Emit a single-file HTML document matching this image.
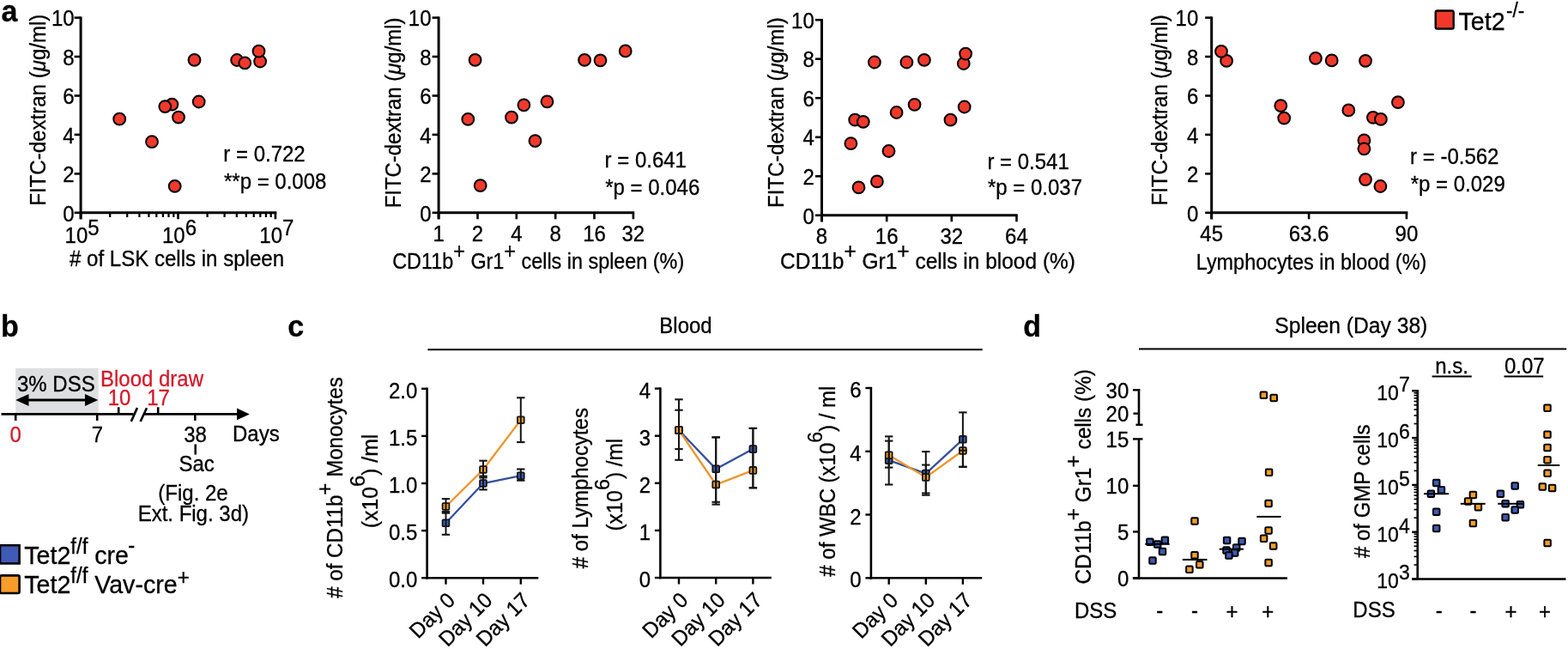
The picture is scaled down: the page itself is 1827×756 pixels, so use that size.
<!DOCTYPE html>
<html><head><meta charset="utf-8"><title>Figure</title>
<style>
html,body{margin:0;padding:0;background:#fff;}
svg{display:block;filter:blur(0.3px);}
</style></head>
<body>
<svg width="1827" height="756" viewBox="0 0 1827 756">
<rect x="0" y="0" width="1827" height="756" fill="#fff"/>
<g font-family="'Liberation Sans', Arial, Helvetica, sans-serif" font-size="24" fill="#000">
<text transform="translate(1.50,24.50) scale(1,1.042)" font-size="34" font-weight="bold" stroke="#000" stroke-width="0.3">a</text>
<line x1="94.1" y1="19.4" x2="94.1" y2="255.3" stroke="#000" stroke-width="3" stroke-linecap="butt"/>
<line x1="86.6" y1="247.8" x2="94.1" y2="247.8" stroke="#000" stroke-width="2.6" stroke-linecap="butt"/>
<text transform="translate(86.60,257.50) scale(1,1.042)" text-anchor="end" stroke="#000" stroke-width="0.3">0</text>
<line x1="86.6" y1="202.4" x2="94.1" y2="202.4" stroke="#000" stroke-width="2.6" stroke-linecap="butt"/>
<text transform="translate(86.60,212.06) scale(1,1.042)" text-anchor="end" stroke="#000" stroke-width="0.3">2</text>
<line x1="86.6" y1="156.9" x2="94.1" y2="156.9" stroke="#000" stroke-width="2.6" stroke-linecap="butt"/>
<text transform="translate(86.60,166.62) scale(1,1.042)" text-anchor="end" stroke="#000" stroke-width="0.3">4</text>
<line x1="86.6" y1="111.5" x2="94.1" y2="111.5" stroke="#000" stroke-width="2.6" stroke-linecap="butt"/>
<text transform="translate(86.60,121.18) scale(1,1.042)" text-anchor="end" stroke="#000" stroke-width="0.3">6</text>
<line x1="86.6" y1="66.0" x2="94.1" y2="66.0" stroke="#000" stroke-width="2.6" stroke-linecap="butt"/>
<text transform="translate(86.60,75.74) scale(1,1.042)" text-anchor="end" stroke="#000" stroke-width="0.3">8</text>
<line x1="86.6" y1="20.6" x2="94.1" y2="20.6" stroke="#000" stroke-width="2.6" stroke-linecap="butt"/>
<text transform="translate(86.60,30.30) scale(1,1.042)" text-anchor="end" stroke="#000" stroke-width="0.3">10</text>
<text transform="translate(52.80,239.80) rotate(-90) scale(1,1.042)" stroke="#000" stroke-width="0.3" textLength="223.2" lengthAdjust="spacingAndGlyphs">FITC-dextran (<tspan font-style="italic">μ</tspan>g/ml)</text>
<line x1="92.6" y1="247.8" x2="322.3" y2="247.8" stroke="#000" stroke-width="3" stroke-linecap="butt"/>
<line x1="94.1" y1="247.8" x2="94.1" y2="255.3" stroke="#000" stroke-width="2.6" stroke-linecap="butt"/>
<line x1="128.2" y1="247.8" x2="128.2" y2="253.0" stroke="#000" stroke-width="2.2" stroke-linecap="butt"/>
<line x1="148.2" y1="247.8" x2="148.2" y2="253.0" stroke="#000" stroke-width="2.2" stroke-linecap="butt"/>
<line x1="162.4" y1="247.8" x2="162.4" y2="253.0" stroke="#000" stroke-width="2.2" stroke-linecap="butt"/>
<line x1="173.4" y1="247.8" x2="173.4" y2="253.0" stroke="#000" stroke-width="2.2" stroke-linecap="butt"/>
<line x1="182.3" y1="247.8" x2="182.3" y2="253.0" stroke="#000" stroke-width="2.2" stroke-linecap="butt"/>
<line x1="189.9" y1="247.8" x2="189.9" y2="253.0" stroke="#000" stroke-width="2.2" stroke-linecap="butt"/>
<line x1="196.5" y1="247.8" x2="196.5" y2="253.0" stroke="#000" stroke-width="2.2" stroke-linecap="butt"/>
<line x1="202.3" y1="247.8" x2="202.3" y2="253.0" stroke="#000" stroke-width="2.2" stroke-linecap="butt"/>
<line x1="207.5" y1="247.8" x2="207.5" y2="255.3" stroke="#000" stroke-width="2.6" stroke-linecap="butt"/>
<line x1="241.6" y1="247.8" x2="241.6" y2="253.0" stroke="#000" stroke-width="2.2" stroke-linecap="butt"/>
<line x1="261.6" y1="247.8" x2="261.6" y2="253.0" stroke="#000" stroke-width="2.2" stroke-linecap="butt"/>
<line x1="275.8" y1="247.8" x2="275.8" y2="253.0" stroke="#000" stroke-width="2.2" stroke-linecap="butt"/>
<line x1="286.8" y1="247.8" x2="286.8" y2="253.0" stroke="#000" stroke-width="2.2" stroke-linecap="butt"/>
<line x1="295.7" y1="247.8" x2="295.7" y2="253.0" stroke="#000" stroke-width="2.2" stroke-linecap="butt"/>
<line x1="303.3" y1="247.8" x2="303.3" y2="253.0" stroke="#000" stroke-width="2.2" stroke-linecap="butt"/>
<line x1="309.9" y1="247.8" x2="309.9" y2="253.0" stroke="#000" stroke-width="2.2" stroke-linecap="butt"/>
<line x1="315.7" y1="247.8" x2="315.7" y2="253.0" stroke="#000" stroke-width="2.2" stroke-linecap="butt"/>
<line x1="320.9" y1="247.8" x2="320.9" y2="255.3" stroke="#000" stroke-width="2.6" stroke-linecap="butt"/>
<text transform="translate(95.60,283.30) scale(1,1.042)" text-anchor="middle" stroke="#000" stroke-width="0.3">10<tspan dy="-9.1">5</tspan></text>
<text transform="translate(209.00,283.30) scale(1,1.042)" text-anchor="middle" stroke="#000" stroke-width="0.3">10<tspan dy="-9.1">6</tspan></text>
<text transform="translate(322.40,283.30) scale(1,1.042)" text-anchor="middle" stroke="#000" stroke-width="0.3">10<tspan dy="-9.1">7</tspan></text>
<text transform="translate(206.00,310.30) scale(1,1.042)" text-anchor="middle" stroke="#000" stroke-width="0.3" textLength="250" lengthAdjust="spacingAndGlyphs"># of LSK cells in spleen</text>
<circle cx="139.2" cy="138.7" r="6.9" fill="#F0392B" stroke="#000" stroke-width="2.0"/>
<circle cx="177.0" cy="165.2" r="6.9" fill="#F0392B" stroke="#000" stroke-width="2.0"/>
<circle cx="200.4" cy="121.6" r="6.9" fill="#F0392B" stroke="#000" stroke-width="2.0"/>
<circle cx="192.3" cy="124.1" r="6.9" fill="#F0392B" stroke="#000" stroke-width="2.0"/>
<circle cx="208.0" cy="136.6" r="6.9" fill="#F0392B" stroke="#000" stroke-width="2.0"/>
<circle cx="203.7" cy="216.9" r="6.9" fill="#F0392B" stroke="#000" stroke-width="2.0"/>
<circle cx="226.5" cy="69.9" r="6.9" fill="#F0392B" stroke="#000" stroke-width="2.0"/>
<circle cx="231.7" cy="118.5" r="6.9" fill="#F0392B" stroke="#000" stroke-width="2.0"/>
<circle cx="276.1" cy="70.0" r="6.9" fill="#F0392B" stroke="#000" stroke-width="2.0"/>
<circle cx="285.3" cy="73.3" r="6.9" fill="#F0392B" stroke="#000" stroke-width="2.0"/>
<circle cx="303.1" cy="71.5" r="6.9" fill="#F0392B" stroke="#000" stroke-width="2.0"/>
<circle cx="301.5" cy="59.7" r="6.9" fill="#F0392B" stroke="#000" stroke-width="2.0"/>
<text transform="translate(260.30,187.60) scale(1,1.042)" stroke="#000" stroke-width="0.3">r = 0.722</text>
<text transform="translate(261.00,219.70) scale(1,1.042)" stroke="#000" stroke-width="0.3">**p = 0.008</text>
<line x1="511.1" y1="19.4" x2="511.1" y2="255.3" stroke="#000" stroke-width="3" stroke-linecap="butt"/>
<line x1="503.6" y1="247.8" x2="511.1" y2="247.8" stroke="#000" stroke-width="2.6" stroke-linecap="butt"/>
<text transform="translate(502.50,257.50) scale(1,1.042)" text-anchor="end" stroke="#000" stroke-width="0.3">0</text>
<line x1="503.6" y1="202.4" x2="511.1" y2="202.4" stroke="#000" stroke-width="2.6" stroke-linecap="butt"/>
<text transform="translate(502.50,212.06) scale(1,1.042)" text-anchor="end" stroke="#000" stroke-width="0.3">2</text>
<line x1="503.6" y1="156.9" x2="511.1" y2="156.9" stroke="#000" stroke-width="2.6" stroke-linecap="butt"/>
<text transform="translate(502.50,166.62) scale(1,1.042)" text-anchor="end" stroke="#000" stroke-width="0.3">4</text>
<line x1="503.6" y1="111.5" x2="511.1" y2="111.5" stroke="#000" stroke-width="2.6" stroke-linecap="butt"/>
<text transform="translate(502.50,121.18) scale(1,1.042)" text-anchor="end" stroke="#000" stroke-width="0.3">6</text>
<line x1="503.6" y1="66.0" x2="511.1" y2="66.0" stroke="#000" stroke-width="2.6" stroke-linecap="butt"/>
<text transform="translate(502.50,75.74) scale(1,1.042)" text-anchor="end" stroke="#000" stroke-width="0.3">8</text>
<line x1="503.6" y1="20.6" x2="511.1" y2="20.6" stroke="#000" stroke-width="2.6" stroke-linecap="butt"/>
<text transform="translate(502.50,30.30) scale(1,1.042)" text-anchor="end" stroke="#000" stroke-width="0.3">10</text>
<text transform="translate(466.60,242.30) rotate(-90) scale(1,1.042)" stroke="#000" stroke-width="0.3" textLength="221.8" lengthAdjust="spacingAndGlyphs">FITC-dextran (<tspan font-style="italic">μ</tspan>g/ml)</text>
<line x1="509.6" y1="247.8" x2="739.2" y2="247.8" stroke="#000" stroke-width="3" stroke-linecap="butt"/>
<line x1="511.1" y1="247.8" x2="511.1" y2="255.3" stroke="#000" stroke-width="2.6" stroke-linecap="butt"/>
<text transform="translate(511.10,280.60) scale(1,1.042)" text-anchor="middle" stroke="#000" stroke-width="0.3">1</text>
<line x1="556.5" y1="247.8" x2="556.5" y2="255.3" stroke="#000" stroke-width="2.6" stroke-linecap="butt"/>
<text transform="translate(556.45,280.60) scale(1,1.042)" text-anchor="middle" stroke="#000" stroke-width="0.3">2</text>
<line x1="601.8" y1="247.8" x2="601.8" y2="255.3" stroke="#000" stroke-width="2.6" stroke-linecap="butt"/>
<text transform="translate(601.80,280.60) scale(1,1.042)" text-anchor="middle" stroke="#000" stroke-width="0.3">4</text>
<line x1="647.2" y1="247.8" x2="647.2" y2="255.3" stroke="#000" stroke-width="2.6" stroke-linecap="butt"/>
<text transform="translate(647.15,280.60) scale(1,1.042)" text-anchor="middle" stroke="#000" stroke-width="0.3">8</text>
<line x1="692.5" y1="247.8" x2="692.5" y2="255.3" stroke="#000" stroke-width="2.6" stroke-linecap="butt"/>
<text transform="translate(692.50,280.60) scale(1,1.042)" text-anchor="middle" stroke="#000" stroke-width="0.3">16</text>
<line x1="737.9" y1="247.8" x2="737.9" y2="255.3" stroke="#000" stroke-width="2.6" stroke-linecap="butt"/>
<text transform="translate(737.85,280.60) scale(1,1.042)" text-anchor="middle" stroke="#000" stroke-width="0.3">32</text>
<text transform="translate(457.20,312.70) scale(1,1.042)" stroke="#000" stroke-width="0.3" textLength="340.0" lengthAdjust="spacingAndGlyphs">CD11b<tspan dy="-11.1">+</tspan><tspan dy="11.1"> Gr1</tspan><tspan dy="-11.1">+</tspan><tspan dy="11.1"> cells in spleen (%)</tspan></text>
<circle cx="553.6" cy="69.9" r="6.9" fill="#F0392B" stroke="#000" stroke-width="2.0"/>
<circle cx="545.3" cy="138.9" r="6.9" fill="#F0392B" stroke="#000" stroke-width="2.0"/>
<circle cx="559.7" cy="216.2" r="6.9" fill="#F0392B" stroke="#000" stroke-width="2.0"/>
<circle cx="596.0" cy="136.7" r="6.9" fill="#F0392B" stroke="#000" stroke-width="2.0"/>
<circle cx="610.4" cy="122.3" r="6.9" fill="#F0392B" stroke="#000" stroke-width="2.0"/>
<circle cx="623.5" cy="164.2" r="6.9" fill="#F0392B" stroke="#000" stroke-width="2.0"/>
<circle cx="637.5" cy="118.3" r="6.9" fill="#F0392B" stroke="#000" stroke-width="2.0"/>
<circle cx="681.1" cy="69.9" r="6.9" fill="#F0392B" stroke="#000" stroke-width="2.0"/>
<circle cx="699.5" cy="70.3" r="6.9" fill="#F0392B" stroke="#000" stroke-width="2.0"/>
<circle cx="728.7" cy="59.4" r="6.9" fill="#F0392B" stroke="#000" stroke-width="2.0"/>
<text transform="translate(704.60,195.00) scale(1,1.042)" stroke="#000" stroke-width="0.3">r = 0.641</text>
<text transform="translate(705.20,226.90) scale(1,1.042)" stroke="#000" stroke-width="0.3">*p = 0.046</text>
<line x1="957.5" y1="22.0" x2="957.5" y2="258.3" stroke="#000" stroke-width="3" stroke-linecap="butt"/>
<line x1="950.0" y1="250.8" x2="957.5" y2="250.8" stroke="#000" stroke-width="2.6" stroke-linecap="butt"/>
<text transform="translate(948.80,260.50) scale(1,1.042)" text-anchor="end" stroke="#000" stroke-width="0.3">0</text>
<line x1="950.0" y1="205.3" x2="957.5" y2="205.3" stroke="#000" stroke-width="2.6" stroke-linecap="butt"/>
<text transform="translate(948.80,214.98) scale(1,1.042)" text-anchor="end" stroke="#000" stroke-width="0.3">2</text>
<line x1="950.0" y1="159.8" x2="957.5" y2="159.8" stroke="#000" stroke-width="2.6" stroke-linecap="butt"/>
<text transform="translate(948.80,169.46) scale(1,1.042)" text-anchor="end" stroke="#000" stroke-width="0.3">4</text>
<line x1="950.0" y1="114.2" x2="957.5" y2="114.2" stroke="#000" stroke-width="2.6" stroke-linecap="butt"/>
<text transform="translate(948.80,123.94) scale(1,1.042)" text-anchor="end" stroke="#000" stroke-width="0.3">6</text>
<line x1="950.0" y1="68.7" x2="957.5" y2="68.7" stroke="#000" stroke-width="2.6" stroke-linecap="butt"/>
<text transform="translate(948.80,78.42) scale(1,1.042)" text-anchor="end" stroke="#000" stroke-width="0.3">8</text>
<line x1="950.0" y1="23.2" x2="957.5" y2="23.2" stroke="#000" stroke-width="2.6" stroke-linecap="butt"/>
<text transform="translate(948.80,32.90) scale(1,1.042)" text-anchor="end" stroke="#000" stroke-width="0.3">10</text>
<text transform="translate(912.80,241.90) rotate(-90) scale(1,1.042)" stroke="#000" stroke-width="0.3" textLength="221.6" lengthAdjust="spacingAndGlyphs">FITC-dextran (<tspan font-style="italic">μ</tspan>g/ml)</text>
<line x1="956.0" y1="250.8" x2="1185.7" y2="250.8" stroke="#000" stroke-width="3" stroke-linecap="butt"/>
<line x1="957.5" y1="250.8" x2="957.5" y2="258.3" stroke="#000" stroke-width="2.6" stroke-linecap="butt"/>
<text transform="translate(957.50,283.60) scale(1,1.042)" text-anchor="middle" stroke="#000" stroke-width="0.3">8</text>
<line x1="1033.2" y1="250.8" x2="1033.2" y2="258.3" stroke="#000" stroke-width="2.6" stroke-linecap="butt"/>
<text transform="translate(1033.15,283.60) scale(1,1.042)" text-anchor="middle" stroke="#000" stroke-width="0.3">16</text>
<line x1="1108.8" y1="250.8" x2="1108.8" y2="258.3" stroke="#000" stroke-width="2.6" stroke-linecap="butt"/>
<text transform="translate(1108.80,283.60) scale(1,1.042)" text-anchor="middle" stroke="#000" stroke-width="0.3">32</text>
<line x1="1184.5" y1="250.8" x2="1184.5" y2="258.3" stroke="#000" stroke-width="2.6" stroke-linecap="butt"/>
<text transform="translate(1184.45,283.60) scale(1,1.042)" text-anchor="middle" stroke="#000" stroke-width="0.3">64</text>
<text transform="translate(909.00,312.70) scale(1,1.042)" stroke="#000" stroke-width="0.3" textLength="344.0" lengthAdjust="spacingAndGlyphs">CD11b<tspan dy="-11.1">+</tspan><tspan dy="11.1">  Gr1</tspan><tspan dy="-11.1">+</tspan><tspan dy="11.1"> cells in blood (%)</tspan></text>
<circle cx="1018.9" cy="72.5" r="6.9" fill="#F0392B" stroke="#000" stroke-width="2.0"/>
<circle cx="1056.4" cy="72.5" r="6.9" fill="#F0392B" stroke="#000" stroke-width="2.0"/>
<circle cx="1076.9" cy="69.9" r="6.9" fill="#F0392B" stroke="#000" stroke-width="2.0"/>
<circle cx="1122.8" cy="74.0" r="6.9" fill="#F0392B" stroke="#000" stroke-width="2.0"/>
<circle cx="1125.1" cy="62.6" r="6.9" fill="#F0392B" stroke="#000" stroke-width="2.0"/>
<circle cx="996.2" cy="139.7" r="6.9" fill="#F0392B" stroke="#000" stroke-width="2.0"/>
<circle cx="1005.8" cy="141.9" r="6.9" fill="#F0392B" stroke="#000" stroke-width="2.0"/>
<circle cx="1044.6" cy="131.0" r="6.9" fill="#F0392B" stroke="#000" stroke-width="2.0"/>
<circle cx="1065.6" cy="121.8" r="6.9" fill="#F0392B" stroke="#000" stroke-width="2.0"/>
<circle cx="1107.5" cy="139.7" r="6.9" fill="#F0392B" stroke="#000" stroke-width="2.0"/>
<circle cx="1123.7" cy="124.5" r="6.9" fill="#F0392B" stroke="#000" stroke-width="2.0"/>
<circle cx="991.4" cy="167.2" r="6.9" fill="#F0392B" stroke="#000" stroke-width="2.0"/>
<circle cx="1035.5" cy="176.0" r="6.9" fill="#F0392B" stroke="#000" stroke-width="2.0"/>
<circle cx="1021.9" cy="211.4" r="6.9" fill="#F0392B" stroke="#000" stroke-width="2.0"/>
<circle cx="1000.5" cy="218.3" r="6.9" fill="#F0392B" stroke="#000" stroke-width="2.0"/>
<text transform="translate(1150.40,196.90) scale(1,1.042)" stroke="#000" stroke-width="0.3">r = 0.541</text>
<text transform="translate(1151.00,227.40) scale(1,1.042)" stroke="#000" stroke-width="0.3">*p = 0.037</text>
<line x1="1411.7" y1="19.4" x2="1411.7" y2="255.3" stroke="#000" stroke-width="3" stroke-linecap="butt"/>
<line x1="1404.2" y1="247.8" x2="1411.7" y2="247.8" stroke="#000" stroke-width="2.6" stroke-linecap="butt"/>
<text transform="translate(1396.30,257.50) scale(1,1.042)" text-anchor="end" stroke="#000" stroke-width="0.3">0</text>
<line x1="1404.2" y1="202.4" x2="1411.7" y2="202.4" stroke="#000" stroke-width="2.6" stroke-linecap="butt"/>
<text transform="translate(1396.30,212.06) scale(1,1.042)" text-anchor="end" stroke="#000" stroke-width="0.3">2</text>
<line x1="1404.2" y1="156.9" x2="1411.7" y2="156.9" stroke="#000" stroke-width="2.6" stroke-linecap="butt"/>
<text transform="translate(1396.30,166.62) scale(1,1.042)" text-anchor="end" stroke="#000" stroke-width="0.3">4</text>
<line x1="1404.2" y1="111.5" x2="1411.7" y2="111.5" stroke="#000" stroke-width="2.6" stroke-linecap="butt"/>
<text transform="translate(1396.30,121.18) scale(1,1.042)" text-anchor="end" stroke="#000" stroke-width="0.3">6</text>
<line x1="1404.2" y1="66.0" x2="1411.7" y2="66.0" stroke="#000" stroke-width="2.6" stroke-linecap="butt"/>
<text transform="translate(1396.30,75.74) scale(1,1.042)" text-anchor="end" stroke="#000" stroke-width="0.3">8</text>
<line x1="1404.2" y1="20.6" x2="1411.7" y2="20.6" stroke="#000" stroke-width="2.6" stroke-linecap="butt"/>
<text transform="translate(1396.30,30.30) scale(1,1.042)" text-anchor="end" stroke="#000" stroke-width="0.3">10</text>
<text transform="translate(1360.00,239.50) rotate(-90) scale(1,1.042)" stroke="#000" stroke-width="0.3" textLength="222.3" lengthAdjust="spacingAndGlyphs">FITC-dextran (<tspan font-style="italic">μ</tspan>g/ml)</text>
<line x1="1410.2" y1="247.8" x2="1640.3" y2="247.8" stroke="#000" stroke-width="3" stroke-linecap="butt"/>
<line x1="1411.7" y1="247.8" x2="1411.7" y2="255.3" stroke="#000" stroke-width="2.6" stroke-linecap="butt"/>
<text transform="translate(1411.70,281.00) scale(1,1.042)" text-anchor="middle" stroke="#000" stroke-width="0.3">45</text>
<line x1="1525.1" y1="247.8" x2="1525.1" y2="255.3" stroke="#000" stroke-width="2.6" stroke-linecap="butt"/>
<text transform="translate(1525.10,281.00) scale(1,1.042)" text-anchor="middle" stroke="#000" stroke-width="0.3">63.6</text>
<line x1="1638.9" y1="247.8" x2="1638.9" y2="255.3" stroke="#000" stroke-width="2.6" stroke-linecap="butt"/>
<text transform="translate(1638.90,281.00) scale(1,1.042)" text-anchor="middle" stroke="#000" stroke-width="0.3">90</text>
<text transform="translate(1528.00,313.50) scale(1,1.042)" text-anchor="middle" stroke="#000" stroke-width="0.3" textLength="268.5" lengthAdjust="spacingAndGlyphs">Lymphocytes in blood (%)</text>
<circle cx="1429.1" cy="70.9" r="6.9" fill="#F0392B" stroke="#000" stroke-width="2.0"/>
<circle cx="1423.0" cy="59.9" r="6.9" fill="#F0392B" stroke="#000" stroke-width="2.0"/>
<circle cx="1532.9" cy="67.8" r="6.9" fill="#F0392B" stroke="#000" stroke-width="2.0"/>
<circle cx="1551.7" cy="70.4" r="6.9" fill="#F0392B" stroke="#000" stroke-width="2.0"/>
<circle cx="1591.0" cy="70.8" r="6.9" fill="#F0392B" stroke="#000" stroke-width="2.0"/>
<circle cx="1492.3" cy="123.2" r="6.9" fill="#F0392B" stroke="#000" stroke-width="2.0"/>
<circle cx="1496.2" cy="137.6" r="6.9" fill="#F0392B" stroke="#000" stroke-width="2.0"/>
<circle cx="1571.3" cy="128.4" r="6.9" fill="#F0392B" stroke="#000" stroke-width="2.0"/>
<circle cx="1599.9" cy="136.8" r="6.9" fill="#F0392B" stroke="#000" stroke-width="2.0"/>
<circle cx="1608.9" cy="138.9" r="6.9" fill="#F0392B" stroke="#000" stroke-width="2.0"/>
<circle cx="1628.9" cy="119.2" r="6.9" fill="#F0392B" stroke="#000" stroke-width="2.0"/>
<circle cx="1589.4" cy="163.4" r="6.9" fill="#F0392B" stroke="#000" stroke-width="2.0"/>
<circle cx="1589.4" cy="173.3" r="6.9" fill="#F0392B" stroke="#000" stroke-width="2.0"/>
<circle cx="1591.0" cy="209.1" r="6.9" fill="#F0392B" stroke="#000" stroke-width="2.0"/>
<circle cx="1608.4" cy="217.0" r="6.9" fill="#F0392B" stroke="#000" stroke-width="2.0"/>
<text transform="translate(1643.10,190.50) scale(1,1.042)" stroke="#000" stroke-width="0.3">r = -0.562</text>
<text transform="translate(1643.70,222.90) scale(1,1.042)" stroke="#000" stroke-width="0.3">*p = 0.029</text>
<rect x="1672.7" y="12.5" width="21" height="21" rx="2" fill="#F0392B" stroke="#000" stroke-width="2.4"/>
<text transform="translate(1699.50,34.90) scale(1,1.042)" font-size="28.6" stroke="#000" stroke-width="0.3">Tet2<tspan font-size="22.5" dx="1.6" dy="-14">-/-</tspan></text>
<text transform="translate(1.00,391.80) scale(1,1.042)" font-size="34" font-weight="bold" stroke="#000" stroke-width="0.3">b</text>
<rect x="18.2" y="429" width="96.5" height="52" fill="#DEDFE1"/>
<text transform="translate(20.00,456.10) scale(1,1.042)" stroke="#000" stroke-width="0.3">3% DSS</text>
<line x1="30.0" y1="465.9" x2="102.0" y2="465.9" stroke="#000" stroke-width="3" stroke-linecap="butt"/>
<path d="M18.2,465.9 L33.5,458.9 L33.5,472.9 Z" stroke="#000" stroke-width="0" fill="#000" />
<path d="M114.3,465.9 L99,458.9 L99,472.9 Z" stroke="#000" stroke-width="0" fill="#000" />
<text transform="translate(117.00,449.70) scale(1,1.042)" fill="#D41A2C" stroke="#D41A2C" stroke-width="0.3">Blood draw</text>
<text transform="translate(139.00,471.50) scale(1,1.042)" text-anchor="middle" fill="#D41A2C" stroke="#D41A2C" stroke-width="0.3">10</text>
<text transform="translate(184.60,471.50) scale(1,1.042)" text-anchor="middle" fill="#D41A2C" stroke="#D41A2C" stroke-width="0.3">17</text>
<line x1="1.5" y1="482.4" x2="155.5" y2="482.4" stroke="#000" stroke-width="2.6" stroke-linecap="butt"/>
<line x1="168.0" y1="482.4" x2="278.0" y2="482.4" stroke="#000" stroke-width="2.6" stroke-linecap="butt"/>
<path d="M290.8,482.4 L276,475.5 L276,489.3 Z" stroke="#000" stroke-width="0" fill="#000" />
<line x1="152.8" y1="491.0" x2="159.9" y2="475.1" stroke="#000" stroke-width="2.6" stroke-linecap="butt"/>
<line x1="163.6" y1="491.0" x2="171.0" y2="475.3" stroke="#000" stroke-width="2.6" stroke-linecap="butt"/>
<line x1="18.2" y1="482.4" x2="18.2" y2="490.0" stroke="#000" stroke-width="2.6" stroke-linecap="butt"/>
<line x1="113.2" y1="482.4" x2="113.2" y2="490.0" stroke="#000" stroke-width="2.6" stroke-linecap="butt"/>
<line x1="227.3" y1="482.4" x2="227.3" y2="490.0" stroke="#000" stroke-width="2.6" stroke-linecap="butt"/>
<line x1="138.2" y1="474.3" x2="138.2" y2="482.4" stroke="#000" stroke-width="2.6" stroke-linecap="butt"/>
<line x1="184.2" y1="474.3" x2="184.2" y2="482.4" stroke="#000" stroke-width="2.6" stroke-linecap="butt"/>
<text transform="translate(18.20,514.60) scale(1,1.042)" text-anchor="middle" fill="#D41A2C" stroke="#D41A2C" stroke-width="0.3">0</text>
<text transform="translate(113.40,514.60) scale(1,1.042)" text-anchor="middle" stroke="#000" stroke-width="0.3">7</text>
<text transform="translate(227.60,514.90) scale(1,1.042)" text-anchor="middle" stroke="#000" stroke-width="0.3">38</text>
<text transform="translate(271.00,514.20) scale(1,1.042)" stroke="#000" stroke-width="0.3">Days</text>
<line x1="227.7" y1="517.5" x2="227.7" y2="529.6" stroke="#000" stroke-width="2.5" stroke-linecap="butt"/>
<text transform="translate(229.20,548.50) scale(1,1.042)" text-anchor="middle" stroke="#000" stroke-width="0.3">Sac</text>
<text transform="translate(225.00,583.20) scale(1,1.042)" text-anchor="middle" stroke="#000" stroke-width="0.3">(Fig. 2e</text>
<text transform="translate(225.30,606.50) scale(1,1.042)" text-anchor="middle" stroke="#000" stroke-width="0.3">Ext. Fig. 3d)</text>
<rect x="0" y="635.2" width="22.6" height="21.2" fill="#3F5BB5" stroke="#000" stroke-width="2.6"/>
<rect x="0" y="670.4" width="22.6" height="20.6" rx="1.5" fill="#F69D2A" stroke="#000" stroke-width="2.6"/>
<text transform="translate(28.30,656.80) scale(1,1.042)" font-size="28.6" stroke="#000" stroke-width="0.3">Tet2<tspan font-size="24" dy="-11.7">f/f</tspan><tspan dy="11.7"> cre</tspan><tspan font-size="24" dx="-0.8" dy="-12">-</tspan></text>
<text transform="translate(28.30,691.20) scale(1,1.042)" font-size="28.6" stroke="#000" stroke-width="0.3">Tet2<tspan font-size="24" dy="-11.7">f/f</tspan><tspan dy="11.7"> Vav-cre</tspan><tspan font-size="24" dy="-10">+</tspan></text>
<text transform="translate(335.30,392.30) scale(1,1.042)" font-size="34" font-weight="bold" stroke="#000" stroke-width="0.3">c</text>
<line x1="498.4" y1="407.2" x2="1144.7" y2="407.2" stroke="#000" stroke-width="2" stroke-linecap="butt"/>
<text transform="translate(799.00,388.20) scale(1,1.042)" text-anchor="middle" stroke="#000" stroke-width="0.3">Blood</text>
<line x1="497.6" y1="451.6" x2="497.6" y2="674.5" stroke="#000" stroke-width="2.6" stroke-linecap="butt"/>
<line x1="496.3" y1="673.2" x2="627.3" y2="673.2" stroke="#000" stroke-width="2.6" stroke-linecap="butt"/>
<line x1="491.1" y1="673.2" x2="497.6" y2="673.2" stroke="#000" stroke-width="2.4" stroke-linecap="butt"/>
<text transform="translate(486.30,684.20) scale(1,1.042)" text-anchor="end" stroke="#000" stroke-width="0.3">0.0</text>
<line x1="491.1" y1="618.1" x2="497.6" y2="618.1" stroke="#000" stroke-width="2.4" stroke-linecap="butt"/>
<text transform="translate(486.30,629.10) scale(1,1.042)" text-anchor="end" stroke="#000" stroke-width="0.3">0.5</text>
<line x1="491.1" y1="563.0" x2="497.6" y2="563.0" stroke="#000" stroke-width="2.4" stroke-linecap="butt"/>
<text transform="translate(486.30,574.00) scale(1,1.042)" text-anchor="end" stroke="#000" stroke-width="0.3">1.0</text>
<line x1="491.1" y1="507.9" x2="497.6" y2="507.9" stroke="#000" stroke-width="2.4" stroke-linecap="butt"/>
<text transform="translate(486.30,518.90) scale(1,1.042)" text-anchor="end" stroke="#000" stroke-width="0.3">1.5</text>
<line x1="491.1" y1="452.8" x2="497.6" y2="452.8" stroke="#000" stroke-width="2.4" stroke-linecap="butt"/>
<text transform="translate(486.30,463.80) scale(1,1.042)" text-anchor="end" stroke="#000" stroke-width="0.3">2.0</text>
<line x1="519.5" y1="673.2" x2="519.5" y2="680.7" stroke="#000" stroke-width="2.4" stroke-linecap="butt"/>
<line x1="563.0" y1="673.2" x2="563.0" y2="680.7" stroke="#000" stroke-width="2.4" stroke-linecap="butt"/>
<line x1="606.8" y1="673.2" x2="606.8" y2="680.7" stroke="#000" stroke-width="2.4" stroke-linecap="butt"/>
<polyline points="519.5,609.3 563.0,563.0 606.8,554.2" fill="none" stroke="#34509F" stroke-width="2.3"/>
<rect x="515.6" y="605.4" width="7.8" height="7.8" rx="0.8" fill="#3F5BB5" stroke="#141414" stroke-width="1.8"/>
<rect x="559.1" y="559.1" width="7.8" height="7.8" rx="0.8" fill="#3F5BB5" stroke="#141414" stroke-width="1.8"/>
<rect x="602.9" y="550.3" width="7.8" height="7.8" rx="0.8" fill="#3F5BB5" stroke="#141414" stroke-width="1.8"/>
<polyline points="519.5,590.0 563.0,547.0 606.8,489.2" fill="none" stroke="#EE9528" stroke-width="2.3"/>
<rect x="515.6" y="586.1" width="7.8" height="7.8" rx="0.8" fill="#F69D2A" stroke="#141414" stroke-width="1.8"/>
<rect x="559.1" y="543.1" width="7.8" height="7.8" rx="0.8" fill="#F69D2A" stroke="#141414" stroke-width="1.8"/>
<rect x="602.9" y="485.3" width="7.8" height="7.8" rx="0.8" fill="#F69D2A" stroke="#141414" stroke-width="1.8"/>
<line x1="519.5" y1="596.1" x2="519.5" y2="622.8" stroke="#141414" stroke-width="2.0" stroke-linecap="butt"/>
<line x1="514.8" y1="596.1" x2="524.2" y2="596.1" stroke="#141414" stroke-width="2.1" stroke-linecap="butt"/>
<line x1="514.8" y1="622.8" x2="524.2" y2="622.8" stroke="#141414" stroke-width="2.1" stroke-linecap="butt"/>
<line x1="563.0" y1="554.6" x2="563.0" y2="570.4" stroke="#141414" stroke-width="2.0" stroke-linecap="butt"/>
<line x1="558.3" y1="554.6" x2="567.7" y2="554.6" stroke="#141414" stroke-width="2.1" stroke-linecap="butt"/>
<line x1="558.3" y1="570.4" x2="567.7" y2="570.4" stroke="#141414" stroke-width="2.1" stroke-linecap="butt"/>
<line x1="606.8" y1="546.5" x2="606.8" y2="559.7" stroke="#141414" stroke-width="2.0" stroke-linecap="butt"/>
<line x1="602.1" y1="546.5" x2="611.5" y2="546.5" stroke="#141414" stroke-width="2.1" stroke-linecap="butt"/>
<line x1="602.1" y1="559.7" x2="611.5" y2="559.7" stroke="#141414" stroke-width="2.1" stroke-linecap="butt"/>
<line x1="519.5" y1="581.1" x2="519.5" y2="597.6" stroke="#141414" stroke-width="2.0" stroke-linecap="butt"/>
<line x1="514.8" y1="581.1" x2="524.2" y2="581.1" stroke="#141414" stroke-width="2.1" stroke-linecap="butt"/>
<line x1="514.8" y1="597.6" x2="524.2" y2="597.6" stroke="#141414" stroke-width="2.1" stroke-linecap="butt"/>
<line x1="563.0" y1="536.7" x2="563.0" y2="556.4" stroke="#141414" stroke-width="2.0" stroke-linecap="butt"/>
<line x1="558.3" y1="536.7" x2="567.7" y2="536.7" stroke="#141414" stroke-width="2.1" stroke-linecap="butt"/>
<line x1="558.3" y1="556.4" x2="567.7" y2="556.4" stroke="#141414" stroke-width="2.1" stroke-linecap="butt"/>
<line x1="606.8" y1="463.3" x2="606.8" y2="515.1" stroke="#141414" stroke-width="2.0" stroke-linecap="butt"/>
<line x1="602.1" y1="463.3" x2="611.5" y2="463.3" stroke="#141414" stroke-width="2.1" stroke-linecap="butt"/>
<line x1="602.1" y1="515.1" x2="611.5" y2="515.1" stroke="#141414" stroke-width="2.1" stroke-linecap="butt"/>
<text transform="translate(531.70,700.70) rotate(-45) scale(1,1.042)" text-anchor="end" stroke="#000" stroke-width="0.3">Day 0</text>
<text transform="translate(575.20,700.70) rotate(-45) scale(1,1.042)" text-anchor="end" stroke="#000" stroke-width="0.3">Day 10</text>
<text transform="translate(619.00,700.70) rotate(-45) scale(1,1.042)" text-anchor="end" stroke="#000" stroke-width="0.3">Day 17</text>
<text transform="translate(399.40,696.80) rotate(-90) scale(1,1.042)" stroke="#000" stroke-width="0.3" textLength="257.5" lengthAdjust="spacingAndGlyphs"># of CD11b<tspan dy="-11.5">+</tspan><tspan dy="11.5"> Monocytes</tspan></text>
<text transform="translate(439.60,615.20) rotate(-90) scale(1,1.042)" stroke="#000" stroke-width="0.3" textLength="109.5" lengthAdjust="spacingAndGlyphs">(x10<tspan font-size="23" dy="-14.2">6</tspan><tspan dy="14.2">) /ml</tspan></text>
<line x1="769.4" y1="451.4" x2="769.4" y2="674.3" stroke="#000" stroke-width="2.6" stroke-linecap="butt"/>
<line x1="768.1" y1="673.0" x2="898.8" y2="673.0" stroke="#000" stroke-width="2.6" stroke-linecap="butt"/>
<line x1="762.9" y1="673.0" x2="769.4" y2="673.0" stroke="#000" stroke-width="2.4" stroke-linecap="butt"/>
<text transform="translate(758.10,684.00) scale(1,1.042)" text-anchor="end" stroke="#000" stroke-width="0.3">0</text>
<line x1="762.9" y1="617.9" x2="769.4" y2="617.9" stroke="#000" stroke-width="2.4" stroke-linecap="butt"/>
<text transform="translate(758.10,628.90) scale(1,1.042)" text-anchor="end" stroke="#000" stroke-width="0.3">1</text>
<line x1="762.9" y1="562.8" x2="769.4" y2="562.8" stroke="#000" stroke-width="2.4" stroke-linecap="butt"/>
<text transform="translate(758.10,573.80) scale(1,1.042)" text-anchor="end" stroke="#000" stroke-width="0.3">2</text>
<line x1="762.9" y1="507.7" x2="769.4" y2="507.7" stroke="#000" stroke-width="2.4" stroke-linecap="butt"/>
<text transform="translate(758.10,518.70) scale(1,1.042)" text-anchor="end" stroke="#000" stroke-width="0.3">3</text>
<line x1="762.9" y1="452.6" x2="769.4" y2="452.6" stroke="#000" stroke-width="2.4" stroke-linecap="butt"/>
<text transform="translate(758.10,463.60) scale(1,1.042)" text-anchor="end" stroke="#000" stroke-width="0.3">4</text>
<line x1="791.0" y1="673.0" x2="791.0" y2="680.5" stroke="#000" stroke-width="2.4" stroke-linecap="butt"/>
<line x1="834.2" y1="673.0" x2="834.2" y2="680.5" stroke="#000" stroke-width="2.4" stroke-linecap="butt"/>
<line x1="877.4" y1="673.0" x2="877.4" y2="680.5" stroke="#000" stroke-width="2.4" stroke-linecap="butt"/>
<polyline points="791.0,501.1 834.2,546.3 877.4,523.1" fill="none" stroke="#34509F" stroke-width="2.3"/>
<rect x="787.1" y="497.2" width="7.8" height="7.8" rx="0.8" fill="#3F5BB5" stroke="#141414" stroke-width="1.8"/>
<rect x="830.3" y="542.4" width="7.8" height="7.8" rx="0.8" fill="#3F5BB5" stroke="#141414" stroke-width="1.8"/>
<rect x="873.5" y="519.2" width="7.8" height="7.8" rx="0.8" fill="#3F5BB5" stroke="#141414" stroke-width="1.8"/>
<polyline points="791.0,501.1 834.2,564.5 877.4,547.9" fill="none" stroke="#EE9528" stroke-width="2.3"/>
<rect x="787.1" y="497.2" width="7.8" height="7.8" rx="0.8" fill="#F69D2A" stroke="#141414" stroke-width="1.8"/>
<rect x="830.3" y="560.6" width="7.8" height="7.8" rx="0.8" fill="#F69D2A" stroke="#141414" stroke-width="1.8"/>
<rect x="873.5" y="544.0" width="7.8" height="7.8" rx="0.8" fill="#F69D2A" stroke="#141414" stroke-width="1.8"/>
<line x1="791.0" y1="477.7" x2="791.0" y2="523.1" stroke="#141414" stroke-width="2.0" stroke-linecap="butt"/>
<line x1="786.3" y1="477.7" x2="795.7" y2="477.7" stroke="#141414" stroke-width="2.1" stroke-linecap="butt"/>
<line x1="786.3" y1="523.1" x2="795.7" y2="523.1" stroke="#141414" stroke-width="2.1" stroke-linecap="butt"/>
<line x1="834.2" y1="509.4" x2="834.2" y2="584.8" stroke="#141414" stroke-width="2.0" stroke-linecap="butt"/>
<line x1="829.5" y1="509.4" x2="838.9" y2="509.4" stroke="#141414" stroke-width="2.1" stroke-linecap="butt"/>
<line x1="829.5" y1="584.8" x2="838.9" y2="584.8" stroke="#141414" stroke-width="2.1" stroke-linecap="butt"/>
<line x1="877.4" y1="498.9" x2="877.4" y2="568.3" stroke="#141414" stroke-width="2.0" stroke-linecap="butt"/>
<line x1="872.7" y1="498.9" x2="882.1" y2="498.9" stroke="#141414" stroke-width="2.1" stroke-linecap="butt"/>
<line x1="872.7" y1="568.3" x2="882.1" y2="568.3" stroke="#141414" stroke-width="2.1" stroke-linecap="butt"/>
<line x1="791.0" y1="465.3" x2="791.0" y2="535.8" stroke="#141414" stroke-width="2.0" stroke-linecap="butt"/>
<line x1="786.3" y1="465.3" x2="795.7" y2="465.3" stroke="#141414" stroke-width="2.1" stroke-linecap="butt"/>
<line x1="786.3" y1="535.8" x2="795.7" y2="535.8" stroke="#141414" stroke-width="2.1" stroke-linecap="butt"/>
<line x1="834.2" y1="509.4" x2="834.2" y2="587.6" stroke="#141414" stroke-width="2.0" stroke-linecap="butt"/>
<line x1="829.5" y1="509.4" x2="838.9" y2="509.4" stroke="#141414" stroke-width="2.1" stroke-linecap="butt"/>
<line x1="829.5" y1="587.6" x2="838.9" y2="587.6" stroke="#141414" stroke-width="2.1" stroke-linecap="butt"/>
<line x1="877.4" y1="498.9" x2="877.4" y2="568.3" stroke="#141414" stroke-width="2.0" stroke-linecap="butt"/>
<line x1="872.7" y1="498.9" x2="882.1" y2="498.9" stroke="#141414" stroke-width="2.1" stroke-linecap="butt"/>
<line x1="872.7" y1="568.3" x2="882.1" y2="568.3" stroke="#141414" stroke-width="2.1" stroke-linecap="butt"/>
<text transform="translate(803.20,700.50) rotate(-45) scale(1,1.042)" text-anchor="end" stroke="#000" stroke-width="0.3">Day 0</text>
<text transform="translate(846.40,700.50) rotate(-45) scale(1,1.042)" text-anchor="end" stroke="#000" stroke-width="0.3">Day 10</text>
<text transform="translate(889.60,700.50) rotate(-45) scale(1,1.042)" text-anchor="end" stroke="#000" stroke-width="0.3">Day 17</text>
<text transform="translate(684.60,662.20) rotate(-90) scale(1,1.042)" stroke="#000" stroke-width="0.3"># of Lymphocytes</text>
<text transform="translate(725.20,618.50) rotate(-90) scale(1,1.042)" stroke="#000" stroke-width="0.3" textLength="107.8" lengthAdjust="spacingAndGlyphs">(x10<tspan font-size="23" dy="-14.2">6</tspan><tspan dy="14.2">) /ml</tspan></text>
<line x1="1014.9" y1="450.8" x2="1014.9" y2="674.6" stroke="#000" stroke-width="2.6" stroke-linecap="butt"/>
<line x1="1013.6" y1="673.3" x2="1144.2" y2="673.3" stroke="#000" stroke-width="2.6" stroke-linecap="butt"/>
<line x1="1008.4" y1="673.3" x2="1014.9" y2="673.3" stroke="#000" stroke-width="2.4" stroke-linecap="butt"/>
<text transform="translate(1003.60,684.30) scale(1,1.042)" text-anchor="end" stroke="#000" stroke-width="0.3">0</text>
<line x1="1008.4" y1="599.5" x2="1014.9" y2="599.5" stroke="#000" stroke-width="2.4" stroke-linecap="butt"/>
<text transform="translate(1003.60,610.53) scale(1,1.042)" text-anchor="end" stroke="#000" stroke-width="0.3">2</text>
<line x1="1008.4" y1="525.8" x2="1014.9" y2="525.8" stroke="#000" stroke-width="2.4" stroke-linecap="butt"/>
<text transform="translate(1003.60,536.77) scale(1,1.042)" text-anchor="end" stroke="#000" stroke-width="0.3">4</text>
<line x1="1008.4" y1="452.0" x2="1014.9" y2="452.0" stroke="#000" stroke-width="2.4" stroke-linecap="butt"/>
<text transform="translate(1003.60,463.00) scale(1,1.042)" text-anchor="end" stroke="#000" stroke-width="0.3">6</text>
<line x1="1035.7" y1="673.3" x2="1035.7" y2="680.8" stroke="#000" stroke-width="2.4" stroke-linecap="butt"/>
<line x1="1078.8" y1="673.3" x2="1078.8" y2="680.8" stroke="#000" stroke-width="2.4" stroke-linecap="butt"/>
<line x1="1121.9" y1="673.3" x2="1121.9" y2="680.8" stroke="#000" stroke-width="2.4" stroke-linecap="butt"/>
<polyline points="1035.7,536.1 1078.8,551.6 1121.9,511.8" fill="none" stroke="#34509F" stroke-width="2.3"/>
<rect x="1031.8" y="532.2" width="7.8" height="7.8" rx="0.8" fill="#3F5BB5" stroke="#141414" stroke-width="1.8"/>
<rect x="1074.9" y="547.7" width="7.8" height="7.8" rx="0.8" fill="#3F5BB5" stroke="#141414" stroke-width="1.8"/>
<rect x="1118.0" y="507.9" width="7.8" height="7.8" rx="0.8" fill="#3F5BB5" stroke="#141414" stroke-width="1.8"/>
<polyline points="1035.7,530.2 1078.8,556.0 1121.9,525.0" fill="none" stroke="#EE9528" stroke-width="2.3"/>
<rect x="1031.8" y="526.3" width="7.8" height="7.8" rx="0.8" fill="#F69D2A" stroke="#141414" stroke-width="1.8"/>
<rect x="1074.9" y="552.1" width="7.8" height="7.8" rx="0.8" fill="#F69D2A" stroke="#141414" stroke-width="1.8"/>
<rect x="1118.0" y="521.1" width="7.8" height="7.8" rx="0.8" fill="#F69D2A" stroke="#141414" stroke-width="1.8"/>
<line x1="1035.7" y1="508.4" x2="1035.7" y2="564.5" stroke="#141414" stroke-width="2.0" stroke-linecap="butt"/>
<line x1="1031.0" y1="508.4" x2="1040.4" y2="508.4" stroke="#141414" stroke-width="2.1" stroke-linecap="butt"/>
<line x1="1031.0" y1="564.5" x2="1040.4" y2="564.5" stroke="#141414" stroke-width="2.1" stroke-linecap="butt"/>
<line x1="1078.8" y1="526.1" x2="1078.8" y2="576.7" stroke="#141414" stroke-width="2.0" stroke-linecap="butt"/>
<line x1="1074.1" y1="526.1" x2="1083.5" y2="526.1" stroke="#141414" stroke-width="2.1" stroke-linecap="butt"/>
<line x1="1074.1" y1="576.7" x2="1083.5" y2="576.7" stroke="#141414" stroke-width="2.1" stroke-linecap="butt"/>
<line x1="1121.9" y1="480.4" x2="1121.9" y2="543.8" stroke="#141414" stroke-width="2.0" stroke-linecap="butt"/>
<line x1="1117.2" y1="480.4" x2="1126.6" y2="480.4" stroke="#141414" stroke-width="2.1" stroke-linecap="butt"/>
<line x1="1117.2" y1="543.8" x2="1126.6" y2="543.8" stroke="#141414" stroke-width="2.1" stroke-linecap="butt"/>
<line x1="1035.7" y1="513.6" x2="1035.7" y2="544.6" stroke="#141414" stroke-width="2.0" stroke-linecap="butt"/>
<line x1="1031.0" y1="513.6" x2="1040.4" y2="513.6" stroke="#141414" stroke-width="2.1" stroke-linecap="butt"/>
<line x1="1031.0" y1="544.6" x2="1040.4" y2="544.6" stroke="#141414" stroke-width="2.1" stroke-linecap="butt"/>
<line x1="1078.8" y1="541.6" x2="1078.8" y2="574.5" stroke="#141414" stroke-width="2.0" stroke-linecap="butt"/>
<line x1="1074.1" y1="541.6" x2="1083.5" y2="541.6" stroke="#141414" stroke-width="2.1" stroke-linecap="butt"/>
<line x1="1074.1" y1="574.5" x2="1083.5" y2="574.5" stroke="#141414" stroke-width="2.1" stroke-linecap="butt"/>
<line x1="1121.9" y1="524.7" x2="1121.9" y2="543.8" stroke="#141414" stroke-width="2.0" stroke-linecap="butt"/>
<line x1="1117.2" y1="524.7" x2="1126.6" y2="524.7" stroke="#141414" stroke-width="2.1" stroke-linecap="butt"/>
<line x1="1117.2" y1="543.8" x2="1126.6" y2="543.8" stroke="#141414" stroke-width="2.1" stroke-linecap="butt"/>
<text transform="translate(1047.90,700.80) rotate(-45) scale(1,1.042)" text-anchor="end" stroke="#000" stroke-width="0.3">Day 0</text>
<text transform="translate(1091.00,700.80) rotate(-45) scale(1,1.042)" text-anchor="end" stroke="#000" stroke-width="0.3">Day 10</text>
<text transform="translate(1134.10,700.80) rotate(-45) scale(1,1.042)" text-anchor="end" stroke="#000" stroke-width="0.3">Day 17</text>
<text transform="translate(972.60,671.70) rotate(-90) scale(1,1.042)" stroke="#000" stroke-width="0.3"># of WBC (x10<tspan font-size="23" dy="-14.2">6</tspan><tspan dy="14.2">) / ml</tspan></text>
<text transform="translate(1192.30,391.60) scale(1,1.042)" font-size="34" font-weight="bold" stroke="#000" stroke-width="0.3">d</text>
<line x1="1327.0" y1="406.6" x2="1825.2" y2="406.6" stroke="#000" stroke-width="2" stroke-linecap="butt"/>
<text transform="translate(1574.30,388.30) scale(1,1.042)" text-anchor="middle" stroke="#000" stroke-width="0.3" textLength="178.0" lengthAdjust="spacingAndGlyphs">Spleen (Day 38)</text>
<line x1="1327.0" y1="453.2" x2="1327.0" y2="494.8" stroke="#000" stroke-width="2.6" stroke-linecap="butt"/>
<line x1="1320.0" y1="454.3" x2="1328.2" y2="454.3" stroke="#000" stroke-width="2.4" stroke-linecap="butt"/>
<line x1="1320.5" y1="481.7" x2="1327.0" y2="481.7" stroke="#000" stroke-width="2.4" stroke-linecap="butt"/>
<line x1="1323.5" y1="494.8" x2="1331.5" y2="494.8" stroke="#000" stroke-width="2.4" stroke-linecap="butt"/>
<line x1="1327.0" y1="511.4" x2="1327.0" y2="674.8" stroke="#000" stroke-width="2.6" stroke-linecap="butt"/>
<line x1="1320.0" y1="511.4" x2="1331.5" y2="511.4" stroke="#000" stroke-width="2.4" stroke-linecap="butt"/>
<line x1="1320.0" y1="565.8" x2="1327.0" y2="565.8" stroke="#000" stroke-width="2.4" stroke-linecap="butt"/>
<line x1="1320.0" y1="619.4" x2="1327.0" y2="619.4" stroke="#000" stroke-width="2.4" stroke-linecap="butt"/>
<line x1="1320.0" y1="673.5" x2="1327.0" y2="673.5" stroke="#000" stroke-width="2.4" stroke-linecap="butt"/>
<line x1="1319.8" y1="673.5" x2="1500.0" y2="673.5" stroke="#000" stroke-width="2.6" stroke-linecap="butt"/>
<text transform="translate(1315.30,463.50) scale(1,1.042)" text-anchor="end" stroke="#000" stroke-width="0.3">30</text>
<text transform="translate(1315.30,490.90) scale(1,1.042)" text-anchor="end" stroke="#000" stroke-width="0.3">20</text>
<text transform="translate(1315.30,520.60) scale(1,1.042)" text-anchor="end" stroke="#000" stroke-width="0.3">15</text>
<text transform="translate(1315.30,575.00) scale(1,1.042)" text-anchor="end" stroke="#000" stroke-width="0.3">10</text>
<text transform="translate(1315.30,628.60) scale(1,1.042)" text-anchor="end" stroke="#000" stroke-width="0.3">5</text>
<text transform="translate(1315.30,682.70) scale(1,1.042)" text-anchor="end" stroke="#000" stroke-width="0.3">0</text>
<text transform="translate(1270.80,680.50) rotate(-90) scale(1,1.042)" stroke="#000" stroke-width="0.3" textLength="250.5" lengthAdjust="spacingAndGlyphs">CD11b<tspan dy="-11.5">+</tspan><tspan dy="11.5"> Gr1</tspan><tspan dy="-11.5">+</tspan><tspan dy="11.5"> cells (%)</tspan></text>
<rect x="1336.15" y="627.45" width="7.5" height="7.5" rx="1" fill="#3F5BB5" stroke="#000" stroke-width="2.0"/>
<rect x="1344.95" y="630.15" width="7.5" height="7.5" rx="1" fill="#3F5BB5" stroke="#000" stroke-width="2.0"/>
<rect x="1353.65" y="625.45" width="7.5" height="7.5" rx="1" fill="#3F5BB5" stroke="#000" stroke-width="2.0"/>
<rect x="1350.75" y="638.65" width="7.5" height="7.5" rx="1" fill="#3F5BB5" stroke="#000" stroke-width="2.0"/>
<rect x="1339.25" y="649.35" width="7.5" height="7.5" rx="1" fill="#3F5BB5" stroke="#000" stroke-width="2.0"/>
<line x1="1334.3" y1="633.8" x2="1362.7" y2="633.8" stroke="#000" stroke-width="2" stroke-linecap="butt"/>
<rect x="1388.25" y="603.15" width="7.5" height="7.5" rx="1" fill="#F69D2A" stroke="#000" stroke-width="2.0"/>
<rect x="1388.25" y="642.95" width="7.5" height="7.5" rx="1" fill="#F69D2A" stroke="#000" stroke-width="2.0"/>
<rect x="1394.05" y="654.05" width="7.5" height="7.5" rx="1" fill="#F69D2A" stroke="#000" stroke-width="2.0"/>
<rect x="1382.15" y="659.55" width="7.5" height="7.5" rx="1" fill="#F69D2A" stroke="#000" stroke-width="2.0"/>
<line x1="1377.8" y1="651.9" x2="1406.5" y2="651.9" stroke="#000" stroke-width="2" stroke-linecap="butt"/>
<rect x="1425.25" y="637.25" width="7.5" height="7.5" rx="1" fill="#3F5BB5" stroke="#000" stroke-width="2.0"/>
<rect x="1425.85" y="625.65" width="7.5" height="7.5" rx="1" fill="#3F5BB5" stroke="#000" stroke-width="2.0"/>
<rect x="1443.25" y="626.85" width="7.5" height="7.5" rx="1" fill="#3F5BB5" stroke="#000" stroke-width="2.0"/>
<rect x="1436.95" y="634.25" width="7.5" height="7.5" rx="1" fill="#3F5BB5" stroke="#000" stroke-width="2.0"/>
<rect x="1434.95" y="640.15" width="7.5" height="7.5" rx="1" fill="#3F5BB5" stroke="#000" stroke-width="2.0"/>
<rect x="1428.15" y="643.25" width="7.5" height="7.5" rx="1" fill="#3F5BB5" stroke="#000" stroke-width="2.0"/>
<line x1="1420.7" y1="639.6" x2="1449.0" y2="639.6" stroke="#000" stroke-width="2" stroke-linecap="butt"/>
<rect x="1468.65" y="456.45" width="7.5" height="7.5" rx="1" fill="#F69D2A" stroke="#000" stroke-width="2.0"/>
<rect x="1480.45" y="459.65" width="7.5" height="7.5" rx="1" fill="#F69D2A" stroke="#000" stroke-width="2.0"/>
<rect x="1474.85" y="546.45" width="7.5" height="7.5" rx="1" fill="#F69D2A" stroke="#000" stroke-width="2.0"/>
<rect x="1474.35" y="582.75" width="7.5" height="7.5" rx="1" fill="#F69D2A" stroke="#000" stroke-width="2.0"/>
<rect x="1474.35" y="614.25" width="7.5" height="7.5" rx="1" fill="#F69D2A" stroke="#000" stroke-width="2.0"/>
<rect x="1468.85" y="623.45" width="7.5" height="7.5" rx="1" fill="#F69D2A" stroke="#000" stroke-width="2.0"/>
<rect x="1479.95" y="632.15" width="7.5" height="7.5" rx="1" fill="#F69D2A" stroke="#000" stroke-width="2.0"/>
<rect x="1474.35" y="651.85" width="7.5" height="7.5" rx="1" fill="#F69D2A" stroke="#000" stroke-width="2.0"/>
<line x1="1464.3" y1="601.9" x2="1492.6" y2="601.9" stroke="#000" stroke-width="2" stroke-linecap="butt"/>
<text transform="translate(1252.00,719.60) scale(1,1.042)" stroke="#000" stroke-width="0.3">DSS</text>
<text transform="translate(1351.30,719.90) scale(1,1.042)" text-anchor="middle" stroke="#000" stroke-width="0.3">-</text>
<text transform="translate(1392.00,719.90) scale(1,1.042)" text-anchor="middle" stroke="#000" stroke-width="0.3">-</text>
<text transform="translate(1435.60,721.40) scale(1,1.042)" text-anchor="middle" stroke="#000" stroke-width="0.3">+</text>
<text transform="translate(1477.20,721.40) scale(1,1.042)" text-anchor="middle" stroke="#000" stroke-width="0.3">+</text>
<line x1="1651.7" y1="454.1" x2="1651.7" y2="674.5" stroke="#000" stroke-width="2.6" stroke-linecap="butt"/>
<line x1="1645.2" y1="674.5" x2="1824.5" y2="674.5" stroke="#000" stroke-width="2.6" stroke-linecap="butt"/>
<line x1="1645.2" y1="674.5" x2="1651.7" y2="674.5" stroke="#000" stroke-width="2.4" stroke-linecap="butt"/>
<line x1="1647.5" y1="658.0" x2="1651.7" y2="658.0" stroke="#000" stroke-width="1.6" stroke-linecap="butt"/>
<line x1="1647.5" y1="648.4" x2="1651.7" y2="648.4" stroke="#000" stroke-width="1.6" stroke-linecap="butt"/>
<line x1="1647.5" y1="641.5" x2="1651.7" y2="641.5" stroke="#000" stroke-width="1.6" stroke-linecap="butt"/>
<line x1="1647.5" y1="636.2" x2="1651.7" y2="636.2" stroke="#000" stroke-width="1.6" stroke-linecap="butt"/>
<line x1="1647.5" y1="631.9" x2="1651.7" y2="631.9" stroke="#000" stroke-width="1.6" stroke-linecap="butt"/>
<line x1="1647.5" y1="628.2" x2="1651.7" y2="628.2" stroke="#000" stroke-width="1.6" stroke-linecap="butt"/>
<line x1="1647.5" y1="625.0" x2="1651.7" y2="625.0" stroke="#000" stroke-width="1.6" stroke-linecap="butt"/>
<line x1="1647.5" y1="622.2" x2="1651.7" y2="622.2" stroke="#000" stroke-width="1.6" stroke-linecap="butt"/>
<line x1="1645.2" y1="619.7" x2="1651.7" y2="619.7" stroke="#000" stroke-width="2.4" stroke-linecap="butt"/>
<line x1="1647.5" y1="603.2" x2="1651.7" y2="603.2" stroke="#000" stroke-width="1.6" stroke-linecap="butt"/>
<line x1="1647.5" y1="593.6" x2="1651.7" y2="593.6" stroke="#000" stroke-width="1.6" stroke-linecap="butt"/>
<line x1="1647.5" y1="586.7" x2="1651.7" y2="586.7" stroke="#000" stroke-width="1.6" stroke-linecap="butt"/>
<line x1="1647.5" y1="581.4" x2="1651.7" y2="581.4" stroke="#000" stroke-width="1.6" stroke-linecap="butt"/>
<line x1="1647.5" y1="577.1" x2="1651.7" y2="577.1" stroke="#000" stroke-width="1.6" stroke-linecap="butt"/>
<line x1="1647.5" y1="573.4" x2="1651.7" y2="573.4" stroke="#000" stroke-width="1.6" stroke-linecap="butt"/>
<line x1="1647.5" y1="570.2" x2="1651.7" y2="570.2" stroke="#000" stroke-width="1.6" stroke-linecap="butt"/>
<line x1="1647.5" y1="567.4" x2="1651.7" y2="567.4" stroke="#000" stroke-width="1.6" stroke-linecap="butt"/>
<line x1="1645.2" y1="564.9" x2="1651.7" y2="564.9" stroke="#000" stroke-width="2.4" stroke-linecap="butt"/>
<line x1="1647.5" y1="548.4" x2="1651.7" y2="548.4" stroke="#000" stroke-width="1.6" stroke-linecap="butt"/>
<line x1="1647.5" y1="538.8" x2="1651.7" y2="538.8" stroke="#000" stroke-width="1.6" stroke-linecap="butt"/>
<line x1="1647.5" y1="531.9" x2="1651.7" y2="531.9" stroke="#000" stroke-width="1.6" stroke-linecap="butt"/>
<line x1="1647.5" y1="526.6" x2="1651.7" y2="526.6" stroke="#000" stroke-width="1.6" stroke-linecap="butt"/>
<line x1="1647.5" y1="522.3" x2="1651.7" y2="522.3" stroke="#000" stroke-width="1.6" stroke-linecap="butt"/>
<line x1="1647.5" y1="518.6" x2="1651.7" y2="518.6" stroke="#000" stroke-width="1.6" stroke-linecap="butt"/>
<line x1="1647.5" y1="515.4" x2="1651.7" y2="515.4" stroke="#000" stroke-width="1.6" stroke-linecap="butt"/>
<line x1="1647.5" y1="512.6" x2="1651.7" y2="512.6" stroke="#000" stroke-width="1.6" stroke-linecap="butt"/>
<line x1="1645.2" y1="510.1" x2="1651.7" y2="510.1" stroke="#000" stroke-width="2.4" stroke-linecap="butt"/>
<line x1="1647.5" y1="493.6" x2="1651.7" y2="493.6" stroke="#000" stroke-width="1.6" stroke-linecap="butt"/>
<line x1="1647.5" y1="484.0" x2="1651.7" y2="484.0" stroke="#000" stroke-width="1.6" stroke-linecap="butt"/>
<line x1="1647.5" y1="477.1" x2="1651.7" y2="477.1" stroke="#000" stroke-width="1.6" stroke-linecap="butt"/>
<line x1="1647.5" y1="471.8" x2="1651.7" y2="471.8" stroke="#000" stroke-width="1.6" stroke-linecap="butt"/>
<line x1="1647.5" y1="467.5" x2="1651.7" y2="467.5" stroke="#000" stroke-width="1.6" stroke-linecap="butt"/>
<line x1="1647.5" y1="463.8" x2="1651.7" y2="463.8" stroke="#000" stroke-width="1.6" stroke-linecap="butt"/>
<line x1="1647.5" y1="460.6" x2="1651.7" y2="460.6" stroke="#000" stroke-width="1.6" stroke-linecap="butt"/>
<line x1="1647.5" y1="457.8" x2="1651.7" y2="457.8" stroke="#000" stroke-width="1.6" stroke-linecap="butt"/>
<line x1="1645.2" y1="455.3" x2="1651.7" y2="455.3" stroke="#000" stroke-width="2.4" stroke-linecap="butt"/>
<text transform="translate(1642.70,685.30) scale(1,1.042)" font-size="23" text-anchor="end" stroke="#000" stroke-width="0.3">10<tspan dy="-9.5">3</tspan></text>
<text transform="translate(1642.70,630.50) scale(1,1.042)" font-size="23" text-anchor="end" stroke="#000" stroke-width="0.3">10<tspan dy="-9.5">4</tspan></text>
<text transform="translate(1642.70,575.70) scale(1,1.042)" font-size="23" text-anchor="end" stroke="#000" stroke-width="0.3">10<tspan dy="-9.5">5</tspan></text>
<text transform="translate(1642.70,520.90) scale(1,1.042)" font-size="23" text-anchor="end" stroke="#000" stroke-width="0.3">10<tspan dy="-9.5">6</tspan></text>
<text transform="translate(1642.70,466.10) scale(1,1.042)" font-size="23" text-anchor="end" stroke="#000" stroke-width="0.3">10<tspan dy="-9.5">7</tspan></text>
<text transform="translate(1596.00,650.00) rotate(-90) scale(1,1.042)" stroke="#000" stroke-width="0.3"># of GMP cells</text>
<rect x="1669.95" y="558.85" width="7.5" height="7.5" rx="1" fill="#3F5BB5" stroke="#000" stroke-width="2.0"/>
<rect x="1675.65" y="566.95" width="7.5" height="7.5" rx="1" fill="#3F5BB5" stroke="#000" stroke-width="2.0"/>
<rect x="1663.65" y="571.45" width="7.5" height="7.5" rx="1" fill="#3F5BB5" stroke="#000" stroke-width="2.0"/>
<rect x="1669.95" y="592.55" width="7.5" height="7.5" rx="1" fill="#3F5BB5" stroke="#000" stroke-width="2.0"/>
<rect x="1669.95" y="611.65" width="7.5" height="7.5" rx="1" fill="#3F5BB5" stroke="#000" stroke-width="2.0"/>
<line x1="1659.0" y1="575.2" x2="1688.0" y2="575.2" stroke="#000" stroke-width="2" stroke-linecap="butt"/>
<rect x="1712.65" y="572.75" width="7.5" height="7.5" rx="1" fill="#F69D2A" stroke="#000" stroke-width="2.0"/>
<rect x="1706.85" y="580.25" width="7.5" height="7.5" rx="1" fill="#F69D2A" stroke="#000" stroke-width="2.0"/>
<rect x="1718.65" y="587.05" width="7.5" height="7.5" rx="1" fill="#F69D2A" stroke="#000" stroke-width="2.0"/>
<rect x="1712.65" y="605.65" width="7.5" height="7.5" rx="1" fill="#F69D2A" stroke="#000" stroke-width="2.0"/>
<line x1="1701.8" y1="586.8" x2="1730.7" y2="586.8" stroke="#000" stroke-width="2" stroke-linecap="butt"/>
<rect x="1761.45" y="562.35" width="7.5" height="7.5" rx="1" fill="#3F5BB5" stroke="#000" stroke-width="2.0"/>
<rect x="1744.55" y="571.45" width="7.5" height="7.5" rx="1" fill="#3F5BB5" stroke="#000" stroke-width="2.0"/>
<rect x="1750.35" y="583.05" width="7.5" height="7.5" rx="1" fill="#3F5BB5" stroke="#000" stroke-width="2.0"/>
<rect x="1767.65" y="584.05" width="7.5" height="7.5" rx="1" fill="#3F5BB5" stroke="#000" stroke-width="2.0"/>
<rect x="1761.45" y="590.25" width="7.5" height="7.5" rx="1" fill="#3F5BB5" stroke="#000" stroke-width="2.0"/>
<rect x="1750.35" y="599.05" width="7.5" height="7.5" rx="1" fill="#3F5BB5" stroke="#000" stroke-width="2.0"/>
<line x1="1745.3" y1="586.8" x2="1774.7" y2="586.8" stroke="#000" stroke-width="2" stroke-linecap="butt"/>
<rect x="1799.25" y="471.55" width="7.5" height="7.5" rx="1" fill="#F69D2A" stroke="#000" stroke-width="2.0"/>
<rect x="1799.25" y="502.45" width="7.5" height="7.5" rx="1" fill="#F69D2A" stroke="#000" stroke-width="2.0"/>
<rect x="1799.25" y="517.75" width="7.5" height="7.5" rx="1" fill="#F69D2A" stroke="#000" stroke-width="2.0"/>
<rect x="1799.25" y="532.05" width="7.5" height="7.5" rx="1" fill="#F69D2A" stroke="#000" stroke-width="2.0"/>
<rect x="1799.35" y="547.55" width="7.5" height="7.5" rx="1" fill="#F69D2A" stroke="#000" stroke-width="2.0"/>
<rect x="1793.55" y="563.35" width="7.5" height="7.5" rx="1" fill="#F69D2A" stroke="#000" stroke-width="2.0"/>
<rect x="1804.85" y="564.65" width="7.5" height="7.5" rx="1" fill="#F69D2A" stroke="#000" stroke-width="2.0"/>
<rect x="1799.35" y="628.75" width="7.5" height="7.5" rx="1" fill="#F69D2A" stroke="#000" stroke-width="2.0"/>
<line x1="1791.8" y1="542.0" x2="1817.3" y2="542.0" stroke="#000" stroke-width="2" stroke-linecap="butt"/>
<text transform="translate(1576.30,719.20) scale(1,1.042)" stroke="#000" stroke-width="0.3">DSS</text>
<text transform="translate(1676.70,719.50) scale(1,1.042)" text-anchor="middle" stroke="#000" stroke-width="0.3">-</text>
<text transform="translate(1716.40,719.50) scale(1,1.042)" text-anchor="middle" stroke="#000" stroke-width="0.3">-</text>
<text transform="translate(1760.40,721.30) scale(1,1.042)" text-anchor="middle" stroke="#000" stroke-width="0.3">+</text>
<text transform="translate(1799.90,721.30) scale(1,1.042)" text-anchor="middle" stroke="#000" stroke-width="0.3">+</text>
<text transform="translate(1691.50,434.50) scale(1,1.042)" text-anchor="middle" stroke="#000" stroke-width="0.3">n.s.</text>
<line x1="1668.6" y1="438.6" x2="1714.8" y2="438.6" stroke="#000" stroke-width="2" stroke-linecap="butt"/>
<text transform="translate(1776.30,434.50) scale(1,1.042)" text-anchor="middle" stroke="#000" stroke-width="0.3">0.07</text>
<line x1="1752.5" y1="438.6" x2="1798.2" y2="438.6" stroke="#000" stroke-width="2" stroke-linecap="butt"/>
</g>
</svg>
</body></html>
